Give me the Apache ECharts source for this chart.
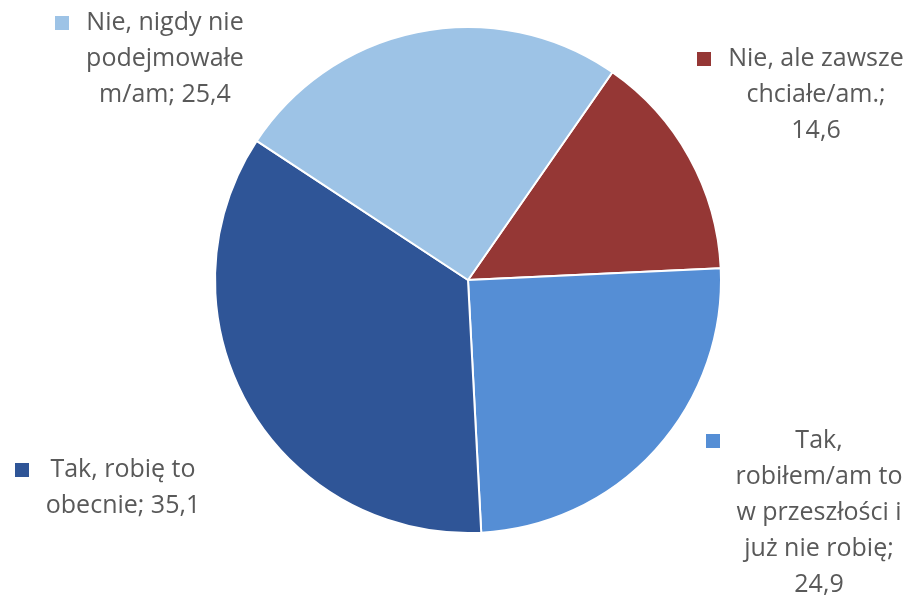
<!DOCTYPE html>
<html><head><meta charset="utf-8">
<script src="https://cdn.jsdelivr.net/npm/echarts@6/dist/echarts.min.js"></script>
<style>html,body{margin:0;padding:0;background:#fff}#c{width:914px;height:596px}</style>
</head><body><div id="c"></div>
<script>
const categories = ["Nie, ale zawsze chciałe/am.", "Tak, robiłem/am to w przeszłości i już nie robię", "Tak, robię to obecnie", "Nie, nigdy nie podejmowałe m/am"];
const values = [14.6, 24.9, 35.1, 25.4];
const labelLines = [
  ["Nie, ale zawsze", "chciałe/am.;"],
  ["Tak,", "robiłem/am to", "w przeszłości i", "już nie robię;"],
  ["Tak, robię to", "obecnie;"],
  ["Nie, nigdy nie", "podejmowałe", "m/am;"]
];
const colors = ["#953735", "#558ED5", "#2F5597", "#9DC3E6"];

// label placement (styling): marker left, block top, gap after marker
const labelPos = [
  {x: 697, y: 40, gap: 15},
  {x: 706, y: 422, gap: 9},
  {x: 15, y: 451, gap: 4},
  {x: 55, y: 4, gap: 6}
];
const W = 180, LH = 36, FS = 25, FF = 'Open Sans';

function fmt(v){ return String(v).replace('.', ','); }

const chart = echarts.init(document.getElementById('c'), null, {renderer: 'canvas'});
chart.setOption({
  animation: false,
  series: [{
    type: 'pie',
    center: [468, 280],
    radius: 253,
    startAngle: 55.2,
    clockwise: true,
    data: categories.map((n, i) => ({
      name: n, value: values[i],
      itemStyle: {color: colors[i]},
      label: {
        rich: {
          sq: {width: 14, height: 14, backgroundColor: colors[i]},
          gap: {width: labelPos[i].gap},
          sp: {width: 14 + labelPos[i].gap},
          t: {width: W, align: 'center', fontFamily: FF, fontSize: FS, color: '#595959', lineHeight: LH}
        }
      }
    })),
    itemStyle: {borderColor: '#fff', borderWidth: 2},
    label: {
      show: true,
      position: 'inside',
      overflow: 'none',
      fontFamily: FF, fontSize: FS, color: '#595959', lineHeight: LH,
      formatter: p => {
        const lines = labelLines[p.dataIndex].slice();
        const last = lines.length - 1;
        const valStr = fmt(p.value);
        let out;
        if (p.dataIndex === 0 || p.dataIndex === 1) {
          out = lines.concat([valStr]);
        } else {
          out = lines.slice(); out[last] = out[last] + ' ' + valStr;
        }
        return out.map((l, k) => (k === 0 ? '{sq|}{gap|}' : '{sp|}') + '{t|' + l + '}').join('\n');
      }
    },
    labelLine: {show: false},
    labelLayout: p => ({
      x: labelPos[p.dataIndex].x,
      y: labelPos[p.dataIndex].y + 1,
      align: 'left',
      verticalAlign: 'top'
    })
  }]
});
</script>
</body></html>
